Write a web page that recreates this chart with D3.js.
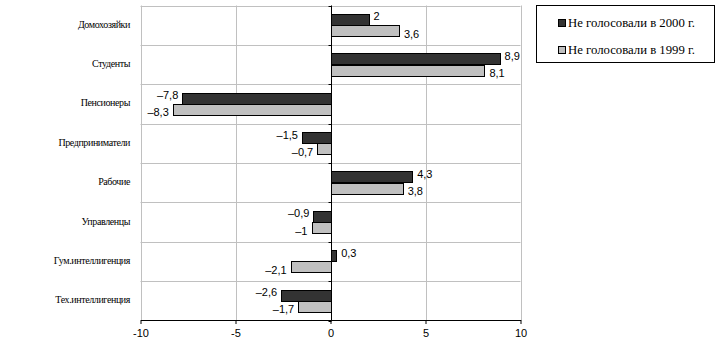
<!DOCTYPE html>
<html><head><meta charset="utf-8">
<script src="https://cdn.jsdelivr.net/npm/d3@7"></script>
<style>body{margin:0;background:#fff}svg{display:block}
.serif{font-family:"Liberation Serif","Times New Roman",serif}
.sans{font-family:"Liberation Sans",Arial,sans-serif}
</style>
</head><body>
<script>
const categories = ["Домохозяйки","Студенты","Пенсионеры","Предприниматели","Рабочие","Управленцы","Гум.интеллигенция","Тех.интеллигенция"];
const series2000 = [2, 8.9, -7.8, -1.5, 4.3, -0.9, 0.3, -2.6];
const series1999 = [3.6, 8.1, -8.3, -0.7, 3.8, -1, -2.1, -1.7];
const seriesNames = ["Не голосовали в 2000 г.","Не голосовали в 1999 г."];
const xTicks = [-10, -5, 0, 5, 10];
const colors = ["#333333", "#c0c0c0"];

(function(){
const W = 720, H = 356;
const svg = d3.select("body").append("svg").attr("width", W).attr("height", H);
const pL = 140.5, pR = 520.5, pT = 5.5, pB = 320.5;
const x = d3.scaleLinear().domain([-10, 10]).range([pL, pR]);
const y = d3.scaleBand().domain(categories).range([pT, pB]);
const bw = y.bandwidth() / (2 + 1.5); // gap width 75%
const gap = bw * 0.75;

const g = svg.append("g");
g.selectAll("line.v").data(xTicks).join("line")
  .attr("x1", d => Math.round(x(d)) + 0.5).attr("x2", d => Math.round(x(d)) + 0.5)
  .attr("y1", pT).attr("y2", pB).attr("stroke", "#c0c0c0");
const hb = categories.map(c => y(c));
g.selectAll("line.h").data(hb).join("line")
  .attr("x1", pL).attr("x2", pR)
  .attr("y1", d => Math.round(d) + 0.5).attr("y2", d => Math.round(d) + 0.5).attr("stroke", "#c0c0c0");

const data = [];
categories.forEach((c, i) => {
  data.push({c, s: 0, v: series2000[i]});
  data.push({c, s: 1, v: series1999[i]});
});
const fmt = v => (v < 0 ? "\u2013" : "") + String(Math.abs(v)).replace(".", ",");
svg.append("g").selectAll("rect").data(data).join("rect")
  .attr("x", d => Math.round(x(Math.min(0, d.v))) + 0.5)
  .attr("width", d => Math.abs(Math.round(x(d.v)) - Math.round(x(0))))
  .attr("y", d => Math.round(y(d.c) + gap + d.s * bw) + 0.5)
  .attr("height", Math.round(bw))
  .attr("fill", d => colors[d.s]).attr("stroke", "#000").attr("stroke-width", 1);

svg.append("g").attr("class", "sans").selectAll("text").data(data).join("text")
  .attr("x", d => d.v >= 0 ? x(d.v) + 5 : x(d.v) - 4)
  .attr("y", d => y(d.c) + gap + d.s * bw + bw / 2 + (d.s === 0 ? -3 : 3))
  .attr("dy", "0.35em")
  .attr("text-anchor", d => d.v >= 0 ? "start" : "end")
  .attr("font-size", 11)
  .text(d => fmt(d.v));

const x0 = Math.round(x(0)) + 0.5;
svg.append("line").attr("x1", x0).attr("x2", x0).attr("y1", pT).attr("y2", pB).attr("stroke", "#000");
svg.append("g").selectAll("line").data(hb.concat([pB])).join("line")
  .attr("x1", x0 - 3).attr("x2", x0)
  .attr("y1", d => Math.round(d) + 0.5).attr("y2", d => Math.round(d) + 0.5).attr("stroke", "#000");

const ax = svg.append("g").attr("transform", `translate(0,${pB - 0.5})`)
  .call(d3.axisBottom(x).tickValues(xTicks).tickSize(4).tickSizeOuter(0).tickFormat(d => String(d)));
ax.attr("font-family", null).attr("font-size", null).attr("class", "sans");
ax.select(".domain").attr("stroke", "#000");
ax.selectAll(".tick line").attr("stroke", "#000");
ax.selectAll(".tick text").attr("font-size", 11).attr("fill", "#000").attr("dy", "0.9em");

svg.append("g").attr("class", "serif").selectAll("text").data(categories).join("text")
  .attr("x", 130).attr("y", d => y(d) + y.bandwidth() / 2 - 1).attr("dy", "0.35em")
  .attr("text-anchor", "end")
  .attr("font-size", 10)
  .attr("letter-spacing", -0.4)
  .text(d => d);

const lg = svg.append("g").attr("class", "serif");
lg.append("rect").attr("x", 536.5).attr("y", 5.5).attr("width", 178).attr("height", 57).attr("fill", "#fff").attr("stroke", "#000");
seriesNames.forEach((n, i) => {
  const cy = 23 + i * 26.5;
  lg.append("rect").attr("x", 558.5).attr("y", Math.round(cy - 4) + 0.5).attr("width", 7).attr("height", 7)
    .attr("fill", colors[i]).attr("stroke", "#000");
  lg.append("text").attr("x", 568).attr("y", cy).attr("dy", "0.35em")
    .attr("font-size", 12)
    .attr("textLength", 127).attr("lengthAdjust", "spacingAndGlyphs")
    .text(n);
});
})();
</script>
</body></html>
